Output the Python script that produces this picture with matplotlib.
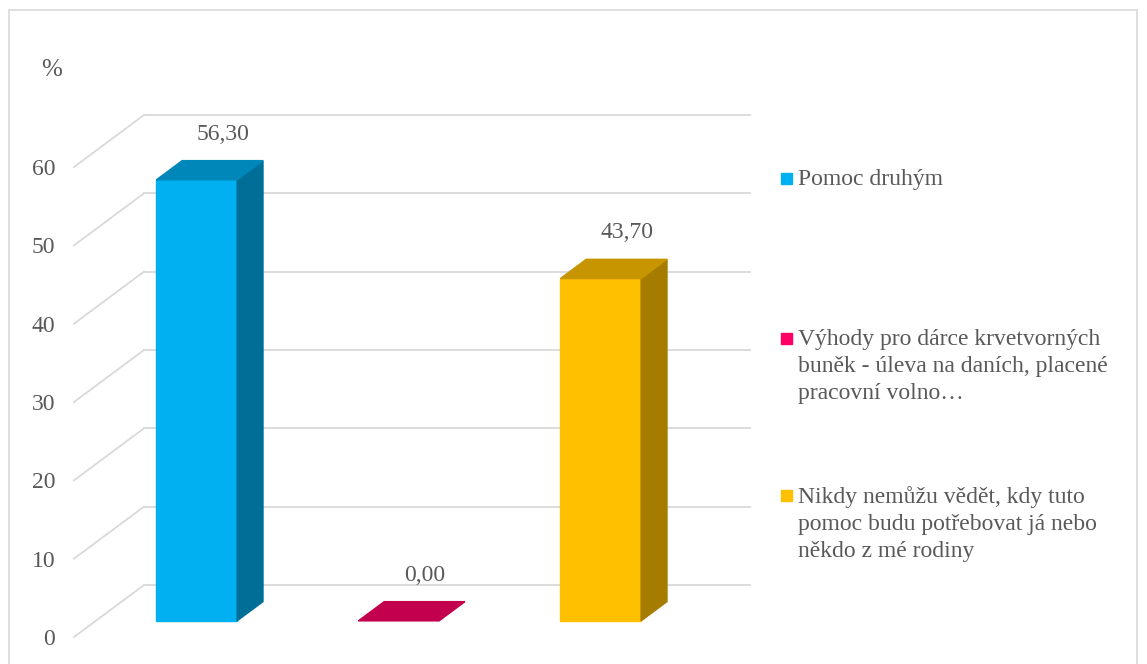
import matplotlib
matplotlib.use("Agg")
import matplotlib.pyplot as plt
from matplotlib.patches import Polygon, Rectangle

# data
categories = ["Pomoc druhým",
              "Výhody pro dárce krvetvorných\nbuněk - úleva na daních, placené\npracovní volno…",
              "Nikdy nemůžu vědět, kdy tuto\npomoc budu potřebovat já nebo\nněkdo z mé rodiny"]
values = [56.30, 0.00, 43.70]
value_labels = ["56,30", "0,00", "43,70"]
yticks = [0, 10, 20, 30, 40, 50, 60]

front_cols = ["#00B0F0", "#FF0066", "#FFC000"]
top_cols = ["#0087B9", "#C2004D", "#C79500"]
side_cols = ["#006F98", "#A0003F", "#A67C00"]

plt.rcParams["font.family"] = ["Liberation Serif", "DejaVu Serif"]
txt_col = "#595959"
grid_col = "#D9D9D9"

W, H = 1147, 664
fig = plt.figure(figsize=(W / 100, H / 100), dpi=100)
# front plane of the fake 3d box
ax = fig.add_axes([74 / W, 27 / H, (680 - 74) / W, (637 - 167) / H])
ax.set_xlim(-0.5, 2.5)
ax.set_ylim(0, 60)
for s in ax.spines.values():
    s.set_visible(False)
ax.set_xticks([])
ax.set_yticks(yticks)
ax.set_yticklabels([str(t) for t in yticks], fontsize=17, color=txt_col)
ax.tick_params(axis="y", length=0, pad=13.5)

DX = 70 / 202.0   # depth shift in category units
DY = 52 / 7.833   # depth shift in value units
d0, d1 = 0.31, 0.68
bw = 0.40

# back wall gridlines + side wall diagonals
for t in yticks:
    ax.plot([-0.5 + DX, 2.5 + DX], [t + DY, t + DY], color=grid_col, lw=1.3, clip_on=False, zorder=1)
    ax.plot([-0.5, -0.5 + DX], [t, t + DY], color=grid_col, lw=1.3, clip_on=False, zorder=1)

for i, v in enumerate(values):
    xl, xr = i - bw / 2, i + bw / 2
    x0, y0 = d0 * DX, d0 * DY
    x1, y1 = d1 * DX, d1 * DY
    if v > 0:
        ax.add_patch(Rectangle((xl + x0, y0), bw, v, color=front_cols[i], clip_on=False, zorder=3))
        ax.add_patch(Polygon([(xr + x0, y0), (xr + x1, y1), (xr + x1, v + y1), (xr + x0, v + y0)],
                             closed=True, color=side_cols[i], clip_on=False, zorder=3))
    ax.add_patch(Polygon([(xl + x0, v + y0), (xr + x0, v + y0), (xr + x1, v + y1), (xl + x1, v + y1)],
                         closed=True, color=top_cols[i], clip_on=False, zorder=3))
    ax.annotate(value_labels[i], (i + x1, v + y1), xytext=(0, 19), textcoords="offset points",
                ha="center", va="center", fontsize=17, color=txt_col, annotation_clip=False)

fig.text(52 / W, 1 - 70 / H, "%", ha="center", va="center", fontsize=18, color=txt_col)

# legend
leg_cols = ["#00B0F0", "#FF0066", "#FFC000"]
leg_y = [178, 338, 495]
for c, lab, y in zip(leg_cols, categories, leg_y):
    fig.patches.append(Rectangle((781 / W, 1 - (y + 6) / H), 11 / W, 11 / H,
                                 color=c, transform=fig.transFigure, figure=fig))
    fig.text(798 / W, 1 - (y - 9) / H, lab, ha="left", va="top", fontsize=17,
             color=txt_col, linespacing=1.38)

# chart border
fig.patches.append(Rectangle((9 / W, -0.01), (1137 - 9) / W, 1 - 10 / H + 0.01, fill=False,
                             edgecolor=grid_col, lw=1.2, transform=fig.transFigure, figure=fig))

fig.savefig("out.png", dpi=100)
